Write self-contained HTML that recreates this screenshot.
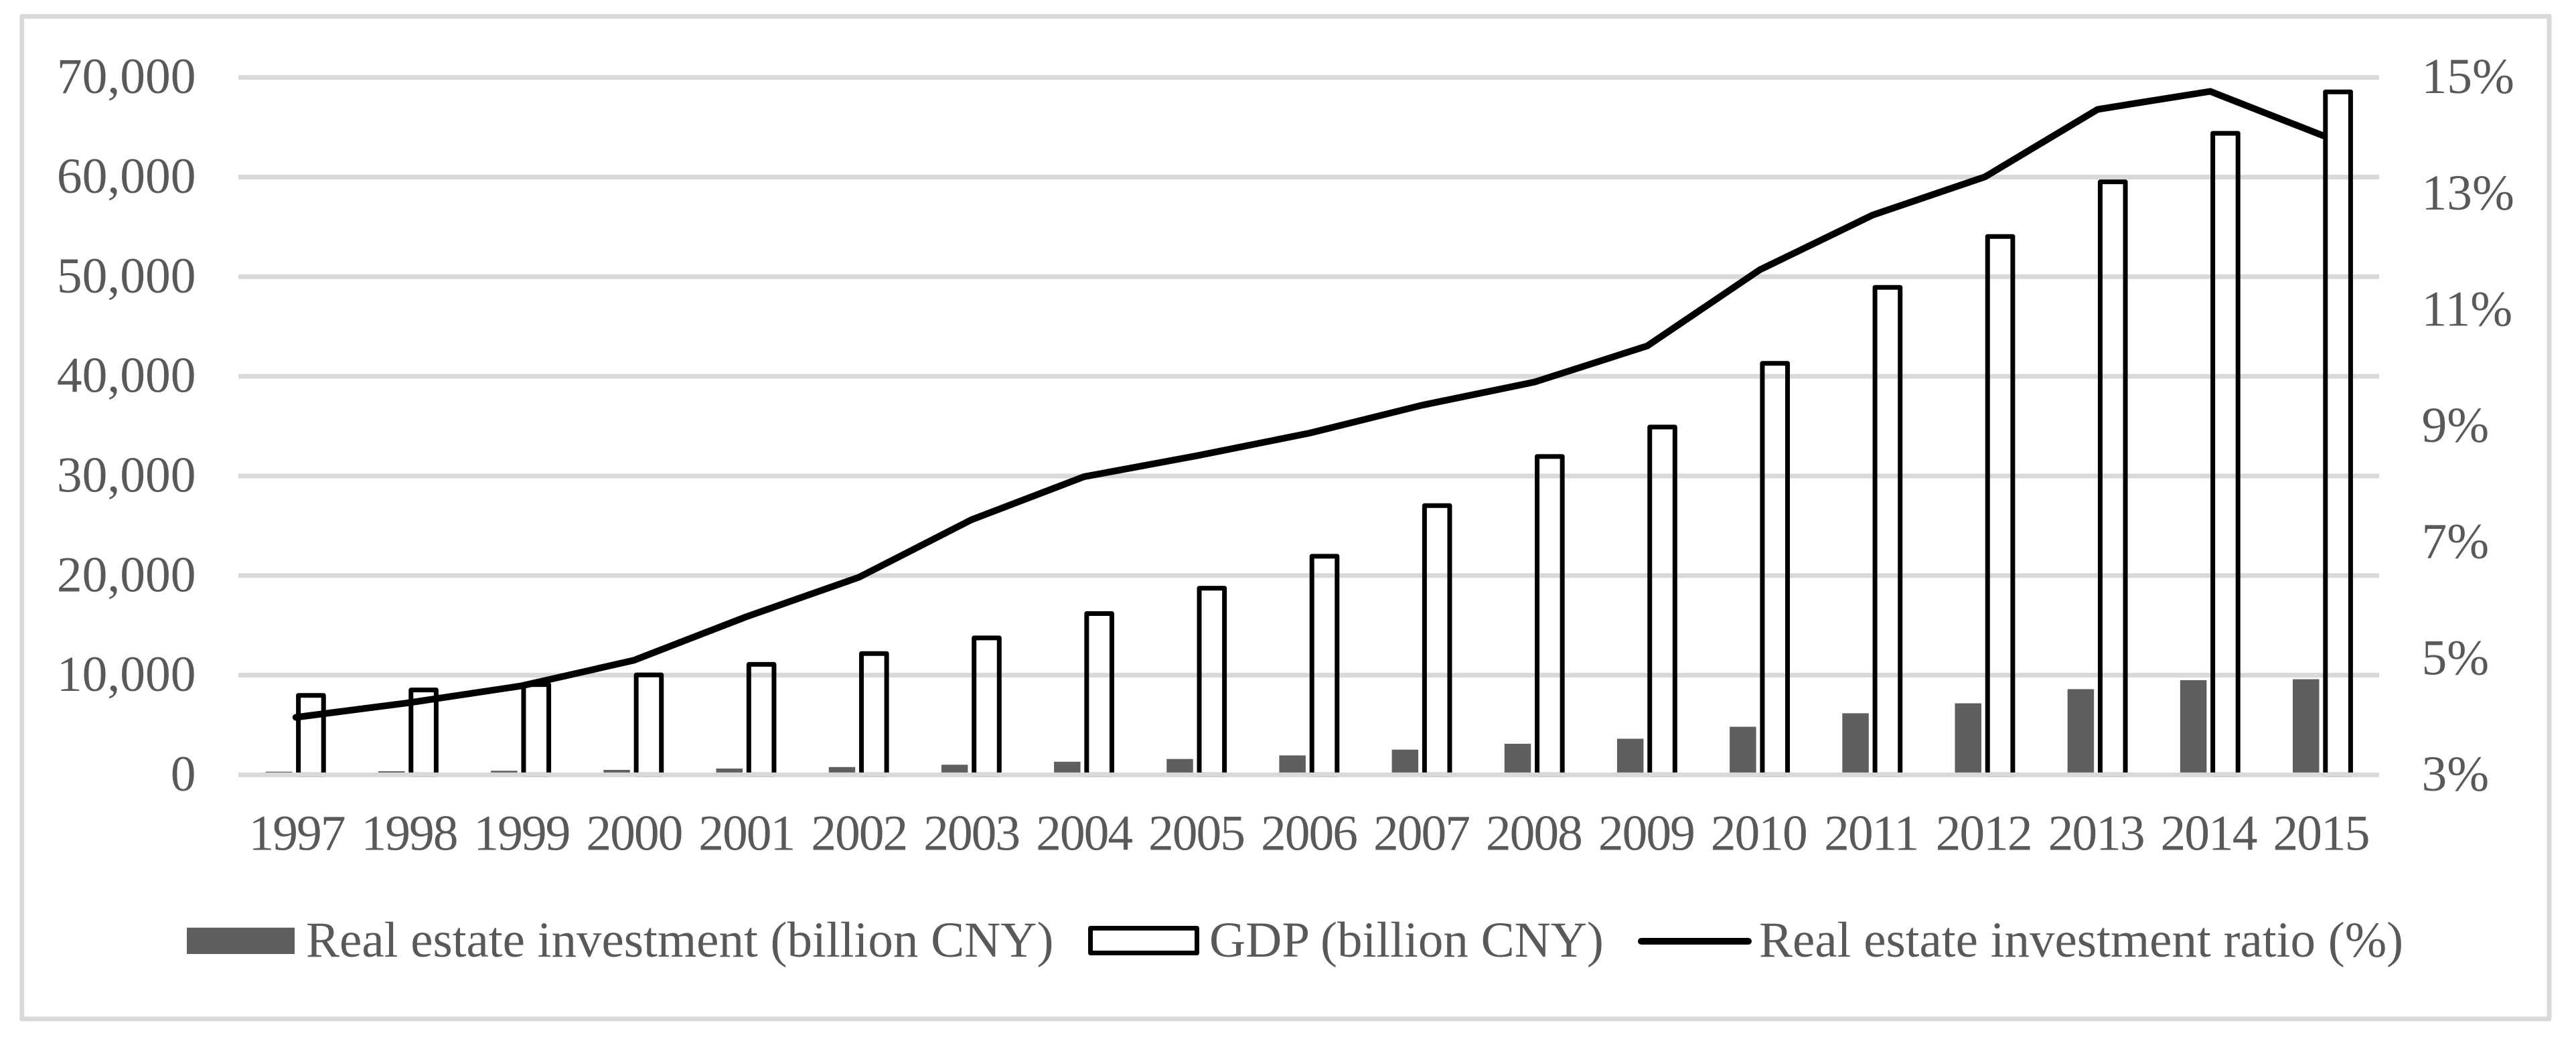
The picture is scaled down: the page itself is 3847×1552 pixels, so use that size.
<!DOCTYPE html>
<html lang="en">
<head>
<meta charset="utf-8">
<title>Real estate investment and GDP, 1997–2015</title>
<style>
  html, body { margin: 0; padding: 0; background: #fff; }
  body { width: 3847px; height: 1552px; overflow: hidden; }
  svg { display: block; }
  text { font-family: "Liberation Serif", "Times New Roman", serif; fill: #595959; font-size: 75px; }
  #labels text { font-size: 75.5px; }
  #labels text.year { letter-spacing: -2px; }
</style>
</head>
<body>
<svg id="chart" xmlns="http://www.w3.org/2000/svg" width="3847" height="1552" viewBox="0 0 3847 1552">
  <rect x="0" y="0" width="3847" height="1552" fill="#ffffff"/>
  <rect x="32.7" y="24.4" width="3774.3" height="1497.6" fill="none" stroke="#d9d9d9" stroke-width="7" stroke-linejoin="round"/>
  <g id="grid"></g>
  <g id="bars"></g>
  <g id="axis-line"></g>
  <path id="ratio-line" fill="none" stroke="#000000" stroke-width="10" stroke-linejoin="round" stroke-linecap="round"></path>
  <g id="labels"></g>
  <g>
    <g>
      <rect x="279" y="1385.7" width="161" height="39.3" fill="#5f5f5f"/>
      <text x="457" y="1429">Real estate investment (billion CNY)</text>
    </g>
    <g>
      <rect x="1628.5" y="1386.5" width="159" height="37" fill="none" stroke="#000000" stroke-width="7" stroke-linejoin="round"/>
      <text x="1806" y="1429">GDP (billion CNY)</text>
    </g>
    <g>
      <line x1="2451" y1="1406" x2="2611" y2="1406" stroke="#000000" stroke-width="10" stroke-linecap="round"/>
      <text x="2627" y="1429">Real estate investment ratio (%)</text>
    </g>
  </g>
</svg>
<script>
const years = ["1997","1998","1999","2000","2001","2002","2003","2004","2005","2006","2007","2008","2009","2010","2011","2012","2013","2014","2015"];
const investment = [318,361,410,498,634,779,1015,1316,1591,1948,2529,3120,3624,4827,6180,7180,8601,9504,9598];
const gdp = [7972,8519,9056,10028,11086,12171,13742,16184,18732,21944,27023,31952,34908,41303,48930,54037,59524,64397,68552];
const ratio = [3.99,4.24,4.53,4.97,5.72,6.40,7.39,8.13,8.49,8.88,9.36,9.76,10.38,11.69,12.63,13.29,14.45,14.76,14.00];
const leftTicks = [0,10000,20000,30000,40000,50000,60000,70000];
const rightTicks = [3,5,7,9,11,13,15];

const NS = 'http://www.w3.org/2000/svg';
const plot = { left: 356, right: 3553, top: 115.7, bottom: 1157.4 };
const leftMax = 70000, rightMin = 3, rightMax = 15;
const firstCenter = 441.8, lastCenter = 3469;
const labelFirstCenter = 443, labelLastCenter = 3466;

function xCenter(i) { return firstCenter + (lastCenter - firstCenter) * i / (years.length - 1); }
function xLabel(i) { return labelFirstCenter + (labelLastCenter - labelFirstCenter) * i / (years.length - 1); }
function yLeft(v) { return plot.bottom - (plot.bottom - plot.top) * v / leftMax; }
function yRight(v) { return plot.bottom - (plot.bottom - plot.top) * (v - rightMin) / (rightMax - rightMin); }
function make(tag, attrs, parent) {
  const el = document.createElementNS(NS, tag);
  for (const k in attrs) el.setAttribute(k, attrs[k]);
  parent.appendChild(el);
  return el;
}

const gridG = document.getElementById('grid');
const barsG = document.getElementById('bars');
const axisG = document.getElementById('axis-line');
const labelsG = document.getElementById('labels');

leftTicks.forEach(function (t) {
  const isBase = t === 0;
  const ln = make('rect', { x: plot.left, y: yLeft(t) - 3.5, width: plot.right - plot.left, height: 7, fill: '#d9d9d9' }, isBase ? axisG : gridG);
  
  
  const lab = make('text', { x: 292.5, y: yLeft(t) + 23.5, 'text-anchor': 'end' }, labelsG);
  
  
  lab.textContent = t.toLocaleString('en-US');
});

rightTicks.forEach(function (t) {
  const lab = make('text', { x: 3616.5, y: yRight(t) + 23.5 }, labelsG);
  
  
  lab.textContent = t + '%';
});

years.forEach(function (yr, i) {
  const c = xCenter(i);
  const invBar = make('rect', { x: c - 45, y: yLeft(investment[i]), width: 39.5, height: plot.bottom - yLeft(investment[i]), fill: '#5f5f5f' }, barsG);
  
  
  const gdpBar = make('rect', { x: c + 3.8, y: yLeft(gdp[i]), width: 37.6, height: plot.bottom - yLeft(gdp[i]), fill: 'none', stroke: '#000000', 'stroke-width': 7, 'stroke-linejoin': 'round' }, barsG);
  
  
  const lab = make('text', { x: xLabel(i), y: 1269.5, 'text-anchor': 'middle', class: 'year' }, labelsG);
  
  
  lab.textContent = yr;
});

document.getElementById('ratio-line').setAttribute('d', ratio.map(function (v, i) {
  return (i ? 'L' : 'M') + xCenter(i).toFixed(1) + ' ' + yRight(v).toFixed(1);
}).join(' '));
</script>
</body>
</html>
